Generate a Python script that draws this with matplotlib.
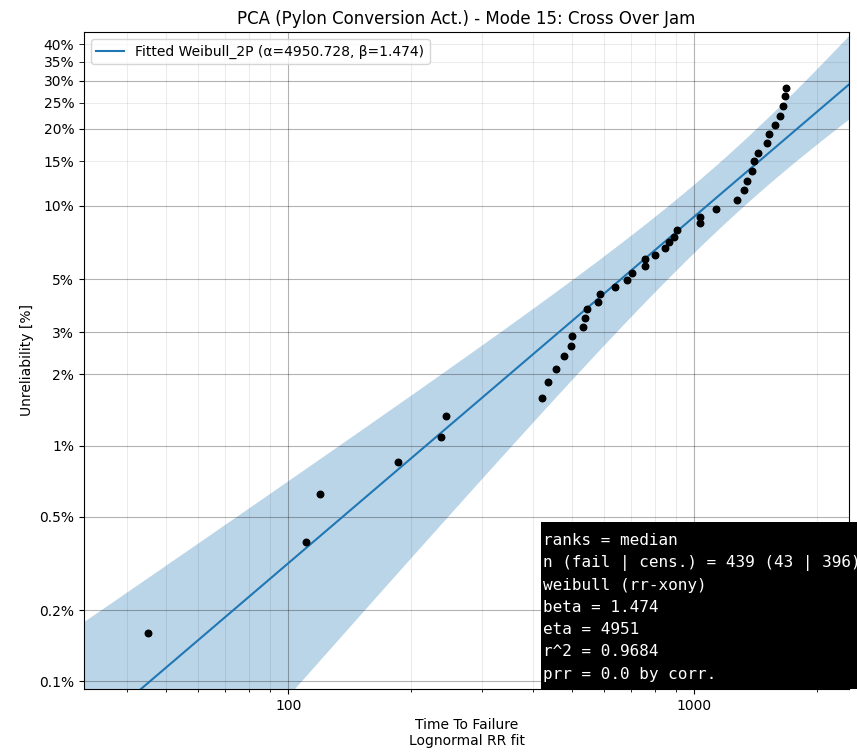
import numpy as np
import matplotlib
matplotlib.use("Agg")
import matplotlib.pyplot as plt
from matplotlib.patches import Rectangle
from matplotlib.ticker import FixedLocator, FixedFormatter

# failure times and their plotting positions in %
fail_times = [45.1, 110.5, 119.7, 186.3, 237.8, 245.0, 422.3, 436.9, 457.2, 476.8,
              497.7, 500.6, 531.1, 538.1, 543.3, 579.2, 584.8, 638.9, 682.8, 703.7,
              756.1, 756.1, 800.2, 848.4, 867.8, 892.7, 908.1, 1034.6, 1034.6, 1129,
              1274, 1323, 1350, 1387, 1401, 1435, 1508, 1525, 1583, 1623,
              1654, 1670, 1682]
unrel_pct = [0.160, 0.389, 0.622, 0.853, 1.092, 1.335, 1.593, 1.856, 2.110, 2.381,
             2.637, 2.896, 3.167, 3.455, 3.744, 4.017, 4.348, 4.652, 4.944, 5.318,
             5.664, 6.037, 6.306, 6.718, 7.133, 7.477, 7.964, 8.479, 9.016, 9.66,
             10.53, 11.51, 12.58, 13.70, 15.00, 16.16, 17.62, 19.17, 20.63, 22.42,
             24.36, 26.43, 28.41]

# fitted weibull parameters + rough standard errors for the 95% band
alpha = 4950.728
beta = 1.474
alpha_se = 1016.0
beta_se = 0.189
cov_ab = -163.5
z = 1.96

major_ticks = [0.001, 0.002, 0.005, 0.01, 0.02, 0.03, 0.05, 0.1, 0.2, 0.3]
major_labels = ["0.1%", "0.2%", "0.5%", "1%", "2%", "3%", "5%", "10%", "20%", "30%"]
minor_ticks = [0.15, 0.25, 0.35, 0.4]
minor_labels = ["15%", "25%", "35%", "40%"]

stats_text = ("ranks = median\n"
              "n (fail | cens.) = 439 (43 | 396)\n"
              "weibull (rr-xony)\n"
              "beta = 1.474\n"
              "eta = 4951\n"
              "r^2 = 0.9684\n"
              "prr = 0.0 by corr.")


def fwd(f):
    f = np.clip(f, 1e-12, 1 - 1e-12)
    return np.log(-np.log(1 - f))


def inv(y):
    return 1 - np.exp(-np.exp(y))


fig = plt.figure(figsize=(8.57, 7.54), dpi=100)
ax = fig.add_subplot(111)
fig.subplots_adjust(left=0.098, right=0.9907, bottom=0.0862, top=0.9576)

ax.set_xscale("log")
ax.set_yscale("function", functions=(fwd, inv))

# fitted line and confidence band (bounds on time)
yy = np.linspace(-9, 0.5, 400)
ff = inv(yy)
u = np.log(alpha) + yy / beta
var_u = (alpha_se / alpha) ** 2 + (yy / beta ** 2) ** 2 * beta_se ** 2 \
    - 2 * yy / (alpha * beta ** 2) * cov_ab
w = z * np.sqrt(var_u)
ax.fill_betweenx(ff, np.exp(u - w), np.exp(u + w), color="C0", alpha=0.3, lw=0)
ax.plot(np.exp(u), ff, color="C0", lw=1.5,
        label="Fitted Weibull_2P (\u03b1=4950.728, \u03b2=1.474)")

ax.scatter(fail_times, np.array(unrel_pct) / 100, color="k", s=22, zorder=3)

ax.set_xlim(31.4, 2404)
ax.set_ylim(0.000927, 0.438)

ax.yaxis.set_major_locator(FixedLocator(major_ticks))
ax.yaxis.set_major_formatter(FixedFormatter(major_labels))
ax.yaxis.set_minor_locator(FixedLocator(minor_ticks))
ax.yaxis.set_minor_formatter(FixedFormatter(minor_labels))
ax.tick_params(axis="y", which="minor", length=3.5, labelsize=10)

ax.xaxis.set_major_locator(FixedLocator([100, 1000]))
ax.xaxis.set_major_formatter(FixedFormatter(["100", "1000"]))

ax.grid(True, which="major", color="k", alpha=0.3, linestyle="-")
ax.grid(True, which="minor", color="k", alpha=0.08, linestyle="-")

ax.set_title("PCA (Pylon Conversion Act.) - Mode 15: Cross Over Jam", fontsize=12)
ax.set_xlabel("Time To Failure\nLognormal RR fit")
ax.set_ylabel("Unreliability [%]")
ax.legend(loc="upper left")

# black stats box in the lower right (runs off the figure edge)
ax.add_patch(Rectangle((0.5974, 0.0), 0.6, 0.2542, transform=ax.transAxes,
                       facecolor="black", edgecolor="none", clip_on=False, zorder=5))
ax.text(0.600, 0.2374, stats_text, transform=ax.transAxes, ha="left", va="top",
        family="DejaVu Sans Mono", fontsize=11.5, color="white", linespacing=1.59,
        clip_on=False, zorder=6)

fig.savefig("out.png", dpi=100)
